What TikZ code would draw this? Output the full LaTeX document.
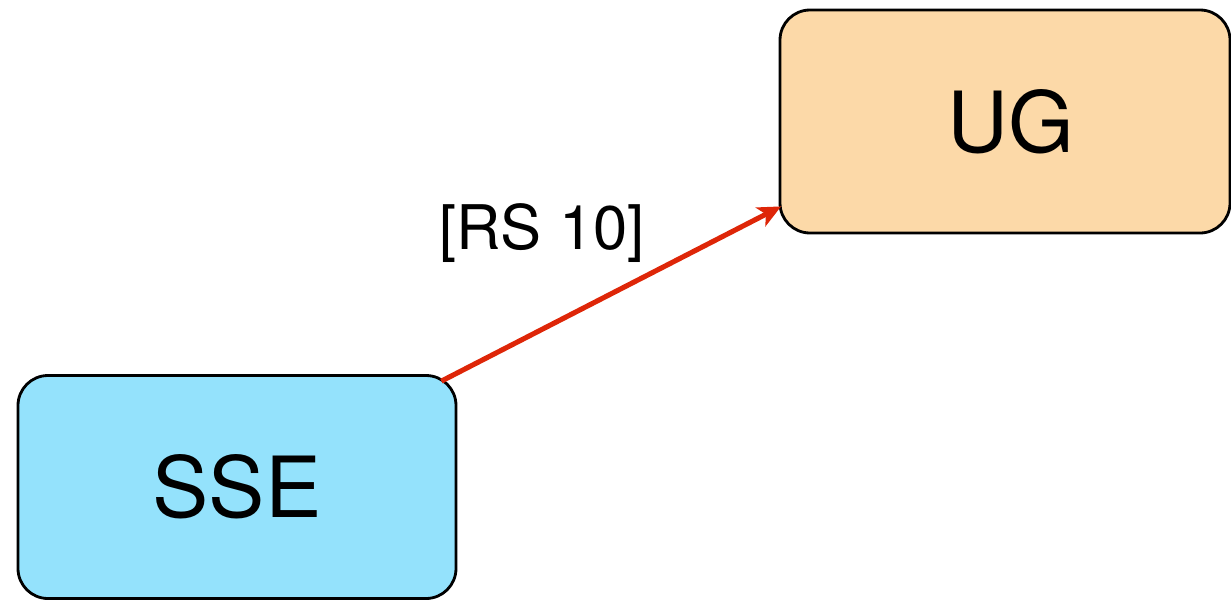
\documentclass[tikz,border=0pt]{standalone}
\usepackage{fontspec}
\setmainfont{TeX Gyre Heros}
\usetikzlibrary{arrows.meta, calc}
\definecolor{sseblue}{RGB}{148,226,252}
\definecolor{ugpeach}{RGB}{252,217,168}
\definecolor{linkred}{RGB}{222,38,8}

\begin{document}
\begin{tikzpicture}[
        box/.style={rectangle, draw=black, line width=1.6pt, rounded corners=0.6cm, minimum width=8.76cm, minimum height=4.46cm, align=center, font=\fontsize{48}{54}\selectfont},
        link/.style={-{Stealth[length=0.46cm, width=0.42cm, inset=0.12cm]}, line width=2.9pt, draw=linkred},
        tag/.style={font=\fontsize{35}{40}\selectfont}
    ]
        \useasboundingbox (0,0) rectangle (24.62,-12);
        \node[box, fill=sseblue] (sse) at (4.74,-9.74) {SSE};
        \node[box, fill=ugpeach, minimum width=9.0cm] (ug) at (20.10,-2.43) {\hspace*{0.25cm}UG};
        \node[tag] (rs) at (10.84,-4.67) {[RS 10]};
        \draw[link] ($(sse.north east)+(-0.32,-0.14)$) -- ($(ug.south west)+(0.05,0.56)$);
    \end{tikzpicture}
\end{document}
